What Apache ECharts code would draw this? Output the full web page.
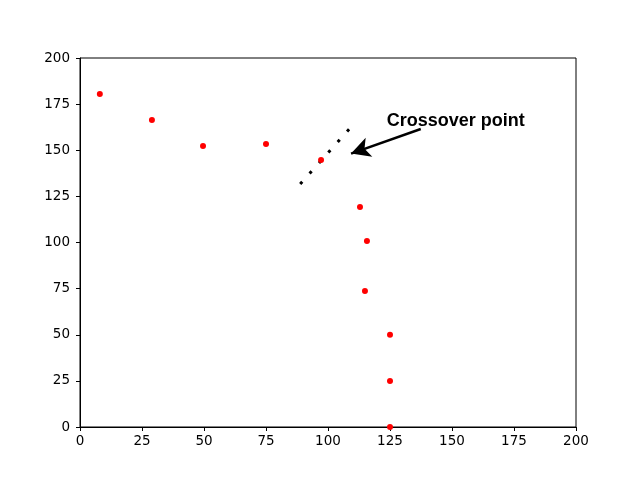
<!DOCTYPE html>
<html>
<head>
<meta charset="utf-8">
<script src="https://cdn.jsdelivr.net/npm/echarts@6/dist/echarts.min.js"></script>
<style>
  html, body { margin: 0; padding: 0; background: #fff; }
  #chart { width: 641px; height: 481px; }
</style>
</head>
<body>
<div id="chart"></div>
<script>
// red scatter points
const pointsX = [8, 29, 49.6, 75, 97.2, 112.9, 115.7, 114.9, 125, 125, 125];
const pointsY = [180.5, 166.4, 152.3, 153.4, 144.7, 119.2, 100.8, 73.7, 50, 25, 0];

// dotted guide line (start, end)
const guideX = [88.8, 108.5];
const guideY = [131.7, 161.4];

// annotation
const annotText = 'Crossover point';
const annotTextAt = [123.7, 165.6];
const arrowFrom = [137.4, 161.5];
const arrowTo = [109.3, 148.2];

const axisTicks = { min: 0, max: 200, interval: 25 };

const chart = echarts.init(document.getElementById('chart'));

const axisCommon = {
  type: 'value',
  min: axisTicks.min,
  max: axisTicks.max,
  interval: axisTicks.interval,
  splitLine: { show: false },
  axisLine: { show: true, onZero: false, lineStyle: { color: '#000', width: 1 } },
  axisTick: { show: true, inside: false, length: 4, lineStyle: { color: '#000' } },
  axisLabel: { color: '#000', fontSize: 13.5, fontFamily: 'DejaVu Sans' }
};

chart.setOption({
  animation: false,
  backgroundColor: '#fff',
  grid: {
    left: 80, right: 65, top: 58, bottom: 54,
    show: true, borderColor: '#000', borderWidth: 1
  },
  xAxis: Object.assign({}, axisCommon, {
    axisLabel: Object.assign({}, axisCommon.axisLabel, { margin: 7 })
  }),
  yAxis: Object.assign({}, axisCommon, {
    axisLabel: Object.assign({}, axisCommon.axisLabel, { margin: 10 })
  }),
  series: [
    {
      type: 'line',
      data: guideX.map((x, i) => [x, guideY[i]]),
      symbol: 'none',
      lineStyle: { color: '#000', width: 3, type: [3, 11.08], cap: 'butt' },
      z: 3
    },
    {
      type: 'scatter',
      data: pointsX.map((x, i) => [x, pointsY[i]]),
      symbol: 'circle',
      symbolSize: 6,
      itemStyle: { color: '#ff0000', opacity: 1 },
      z: 4,
      markLine: {
        silent: true,
        animation: false,
        symbol: ['none', 'arrow'],
        symbolSize: [15, 19],
        lineStyle: { color: '#000', width: 2.5, type: 'solid' },
        label: { show: false },
        data: [[
          { coord: arrowFrom },
          { coord: arrowTo }
        ]]
      },
      markPoint: {
        silent: true,
        animation: false,
        symbol: 'circle',
        symbolSize: 0,
        label: {
          show: true,
          position: 'right',
          distance: 0,
          formatter: annotText,
          color: '#000',
          fontSize: 18,
          fontWeight: 'bold',
          fontFamily: 'Liberation Sans'
        },
        data: [{ coord: annotTextAt }]
      }
    }
  ]
});
</script>
</body>
</html>
